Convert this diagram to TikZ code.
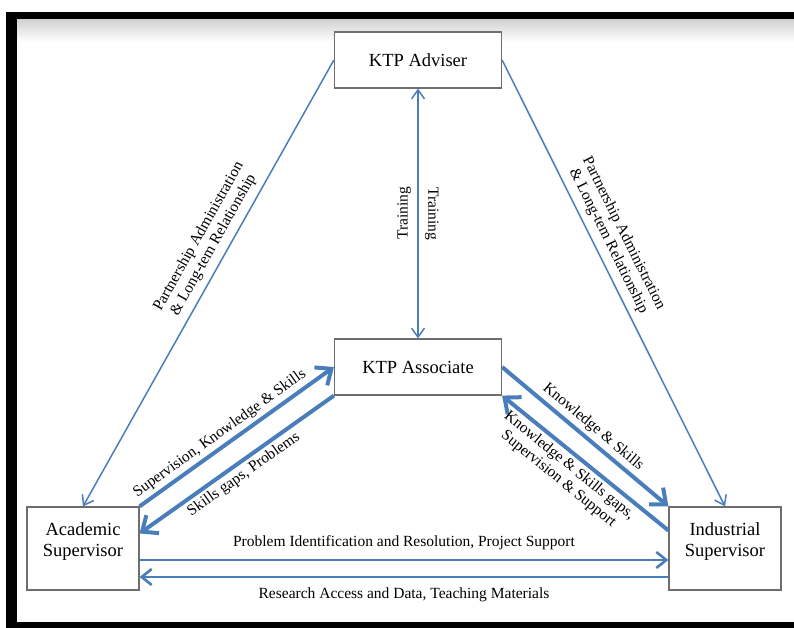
\documentclass[tikz,border=0pt]{standalone}
\usepackage{fontspec}
\setmainfont{Liberation Serif}
\usetikzlibrary{arrows.meta, positioning}
\definecolor{ktpblue}{HTML}{4A7EBB}
\definecolor{ktpgray}{HTML}{6E6E6E}

\begin{document}
\begin{tikzpicture}[
    x=1bp, y=1bp,
    box/.style={rectangle, draw=ktpgray, fill=white, line width=1.2bp,
                font=\fontsize{18.5bp}{21bp}\selectfont, align=center},
    wide/.style={minimum width=167bp, minimum height=56bp},
    tall/.style={minimum width=112bp, minimum height=83bp, text depth=18bp},
    link/.style={line width=1.5bp, color=ktpblue,
                 >={Straight Barb[length=9bp, width=13bp]}},
    feed/.style={line width=2.6bp, color=ktpblue,
                 >={Straight Barb[length=10bp, width=16bp]}},
    flow/.style={line width=4bp, color=ktpblue,
                 >={Straight Barb[length=13bp, width=22bp]}},
    lbl/.style={font=\fontsize{15.5bp}{17bp}\selectfont, text=black, align=center}
  ]
    \useasboundingbox (0,0) rectangle (794,628);

    % frame
    \shade[top color=black!18, bottom color=white] (17,586) rectangle (794,609);
    \fill[black] (6,0) rectangle (17,616);
    \fill[black] (6,609) rectangle (794,616);
    \fill[black] (6,0) rectangle (794,6);

    \node[box, wide] (adv) at (418,568) {KTP Adviser};
    \node[box, wide] (asc) at (418,261) {KTP Associate};
    \node[box, tall] (acad) at (83,79.5) {Academic\\Supervisor};
    \node[box, tall] (ind) at (725,79.5) {Industrial\\Supervisor};

    \draw[link, <-] (acad.north) -- node[lbl, pos=0.57, sloped, above=3bp]
        {Partnership Administration\\\& Long-tem Relationship} (adv.west);
    \draw[link, ->] (adv.east) -- node[lbl, pos=0.42, sloped, above=3bp]
        {Partnership Administration\\\& Long-tem Relationship} (ind.north);
    \draw[link, <->] (asc.north) -- node[lbl, midway, sloped, above=3bp] {Training}
        node[lbl, midway, rotate=-90, anchor=south, yshift=3bp] {Training} (adv.south);

    \draw[flow, ->] (acad.north east) -- node[lbl, pos=0.45, sloped, above]
        {Supervision, Knowledge \& Skills} (asc.west);
    \draw[flow, <-] ([yshift=15bp]acad.east) -- node[lbl, midway, sloped, below]
        {Skills gaps, Problems} (asc.south west);
    \draw[flow, ->] (asc.east) -- node[lbl, midway, sloped, above]
        {Knowledge \& Skills} (ind.north west);
    \draw[flow, <-] (asc.south east) -- node[lbl, pos=0.45, sloped, below]
        {Knowledge \& Skills gaps,\\Supervision \& Support} ([yshift=18bp]ind.west);

    \draw[feed, ->] ([yshift=-11.5bp]acad.east) -- node[lbl, above=6bp]
        {Problem Identification and Resolution, Project Support} ([yshift=-11.5bp]ind.west);
    \draw[feed, <-] ([yshift=-28.5bp]acad.east) -- node[lbl, below=6bp]
        {Research Access and Data, Teaching Materials} ([yshift=-28.5bp]ind.west);
  \end{tikzpicture}
\end{document}
